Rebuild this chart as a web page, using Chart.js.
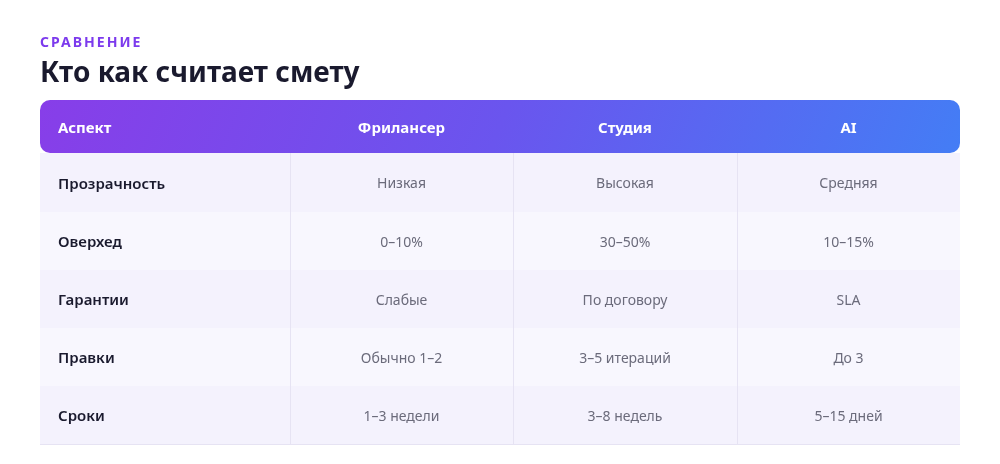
<!DOCTYPE html>
<html><head><meta charset="utf-8">
<script src="https://cdn.jsdelivr.net/npm/chart.js@4"></script>
<style>
body{margin:0;background:#fff;font-family:"Segoe UI","Noto Sans",sans-serif;}
#kicker{position:absolute;left:40px;top:32px;font-size:14px;font-weight:700;letter-spacing:2px;color:#7c3aed;}
#title{position:absolute;left:40px;top:52px;font-size:28px;font-weight:700;color:#1a1a2e;}
#wrap{position:absolute;left:0;top:0;width:1000px;height:464px;}
</style></head><body>
<div id="wrap"><canvas id="tbl"></canvas></div>
<div id="kicker">СРАВНЕНИЕ</div>
<div id="title">Кто как считает смету</div>
<script>
const columns = ["Аспект", "Фрилансер", "Студия", "AI"];
const aspects = ["Прозрачность", "Оверхед", "Гарантии", "Правки", "Сроки"];
const freelancer = ["Низкая", "0–10%", "Слабые", "Обычно 1–2", "1–3 недели"];
const studio = ["Высокая", "30–50%", "По договору", "3–5 итераций", "3–8 недель"];
const ai = ["Средняя", "10–15%", "SLA", "До 3", "5–15 дней"];

// layout grid (scale units = px inside the table area)
const colEdges = [0, 250, 473, 697, 920];
const rowEdges = [0, 53, 112, 170, 228, 286, 344];

const tablePlugin = {
  id: 'tablePlugin',
  afterDraw(chart) {
    const ctx = chart.ctx, xs = chart.scales.x, ys = chart.scales.y;
    const X = v => xs.getPixelForValue(v), Y = v => ys.getPixelForValue(v);
    const left = X(0), right = X(920);
    const body = [aspects, freelancer, studio, ai];
    // rows
    for (let r = 0; r < aspects.length; r++) {
      const y0 = Y(rowEdges[r + 1]), y1 = Y(rowEdges[r + 2]);
      const mid = (y0 + y1) / 2 + 2;
      ctx.fillStyle = r % 2 === 0 ? '#f4f2fd' : '#f8f7fe';
      ctx.fillRect(left, y0, right - left, y1 - y0);
      ctx.strokeStyle = '#e6e3f3'; ctx.lineWidth = 1;
      ctx.beginPath(); ctx.moveTo(left, Math.round(y1) + 0.5); ctx.lineTo(right, Math.round(y1) + 0.5); ctx.stroke();
      for (let c = 0; c < columns.length; c++) {
        const x0 = X(colEdges[c]), x1 = X(colEdges[c + 1]);
        if (c > 0) {
          ctx.beginPath(); ctx.moveTo(Math.round(x0) + 0.5, y0); ctx.lineTo(Math.round(x0) + 0.5, y1); ctx.stroke();
        }
        ctx.textBaseline = 'middle';
        if (c === 0) {
          ctx.font = '600 15px "Segoe UI","Noto Sans",sans-serif'; ctx.fillStyle = '#1a1a2e';
          ctx.textAlign = 'left'; ctx.fillText(body[c][r], x0 + 18, mid);
        } else {
          ctx.font = '14px "Segoe UI","Noto Sans",sans-serif'; ctx.fillStyle = '#6b6b7b';
          ctx.textAlign = 'center'; ctx.fillText(body[c][r], (x0 + x1) / 2, mid);
        }
      }
    }
    // header
    const hy0 = Y(0), hy1 = Y(rowEdges[1]);
    const g = ctx.createLinearGradient(left, hy0 - 150, right, hy1 + 150);
    g.addColorStop(0, '#8b3be8'); g.addColorStop(0.5, '#6a55ee'); g.addColorStop(1, '#3f82f6');
    ctx.fillStyle = g;
    ctx.beginPath(); ctx.roundRect(left, hy0, right - left, hy1 - hy0, 10); ctx.fill();
    ctx.font = '700 15px "Segoe UI","Noto Sans",sans-serif'; ctx.fillStyle = '#ffffff'; ctx.textBaseline = 'middle';
    columns.forEach((t, c) => {
      const x0 = X(colEdges[c]), x1 = X(colEdges[c + 1]);
      const mid = (hy0 + hy1) / 2 + 2;
      if (c === 0) { ctx.textAlign = 'left'; ctx.fillText(t, x0 + 18, mid); }
      else { ctx.textAlign = 'center'; ctx.fillText(t, (x0 + x1) / 2, mid); }
    });
  }
};

new Chart(document.getElementById('tbl'), {
  type: 'scatter',
  data: { datasets: [{ data: [] }] },
  options: {
    responsive: true, maintainAspectRatio: false, animation: false,
    layout: { padding: { left: 40, right: 40, top: 100, bottom: 20 } },
    plugins: { legend: { display: false }, tooltip: { enabled: false } },
    scales: {
      x: { type: 'linear', min: 0, max: 920, display: false },
      y: { type: 'linear', min: 0, max: 344, reverse: true, display: false }
    }
  },
  plugins: [tablePlugin]
});
</script>
</body></html>
